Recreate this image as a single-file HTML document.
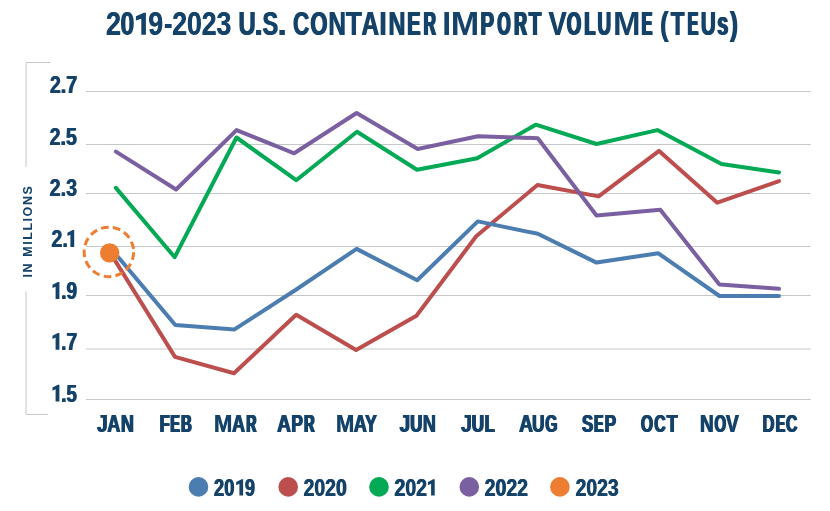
<!DOCTYPE html>
<html>
<head>
<meta charset="utf-8">
<title>2019-2023 U.S. Container Import Volume (TEUs)</title>
<style>
html,body{margin:0;padding:0;background:#fff;}
body{width:830px;height:511px;overflow:hidden;font-family:"Liberation Sans",sans-serif;}
svg{display:block;}
text{font-family:"Liberation Sans",sans-serif;font-weight:bold;fill:#144269;stroke:none;font-kerning:none;}
.grid line{stroke:#c6c7c9;stroke-width:1;}
.series polyline{fill:none;stroke-width:4;stroke-linecap:round;stroke-linejoin:round;}
</style>
</head>
<body>
<svg width="830" height="511" viewBox="0 0 830 511">
<rect width="830" height="511" fill="#ffffff"/>
<defs><filter id="noaa" x="0" y="0" width="830" height="511" filterUnits="userSpaceOnUse" color-interpolation-filters="sRGB"><feOffset dx="0" dy="0"/></filter></defs>
<g filter="url(#noaa)">

<!-- title -->
<g class="title">
<text id="t1" x="105.76" y="34.85" font-size="32.70" textLength="15.00" lengthAdjust="spacingAndGlyphs">2</text><text id="t2" x="120.12" y="34.85" font-size="32.70" textLength="13.76" lengthAdjust="spacingAndGlyphs">0</text><text x="136.00" y="34.85" font-size="32.70" style="fill:none">1</text><text id="t3" x="147.97" y="34.85" font-size="32.70" textLength="14.87" lengthAdjust="spacingAndGlyphs">9</text><text id="t4" x="164.05" y="34.85" font-size="32.70" textLength="7.27" lengthAdjust="spacingAndGlyphs">-</text><text id="t5" x="171.88" y="34.85" font-size="32.70" textLength="59.22" lengthAdjust="spacingAndGlyphs">2023</text>
<use href="#t1" x="0.52"/><use href="#t2" x="0.84"/><use href="#t3" x="0.55"/><use href="#t4" x="1.25"/><use href="#t5" x="0.57"/><path d="M145.90,34.85 L145.90,12.65 L143.90,12.65 L135.90,16.29 L135.90,20.60 L141.30,18.64 L141.30,34.85 Z" fill="#144269"/>
<text id="t6" x="237.97" y="34.85" font-size="32.70" textLength="17.22" lengthAdjust="spacingAndGlyphs">U</text><text id="t7" x="253.40" y="34.85" font-size="32.70" textLength="10.24" lengthAdjust="spacingAndGlyphs">.</text><text id="t8" x="262.02" y="34.85" font-size="32.70" textLength="15.68" lengthAdjust="spacingAndGlyphs">S</text><text id="t9" x="276.75" y="34.85" font-size="32.70" textLength="10.83" lengthAdjust="spacingAndGlyphs">.</text>
<use href="#t6" x="0.96"/><use href="#t8" x="1.01"/>
<text id="t10" x="292.47" y="34.85" font-size="32.70" textLength="16.29" lengthAdjust="spacingAndGlyphs">C</text><text id="t11" x="309.70" y="34.85" font-size="32.70" textLength="17.09" lengthAdjust="spacingAndGlyphs">O</text><text id="t12" x="327.97" y="34.85" font-size="32.70" textLength="17.57" lengthAdjust="spacingAndGlyphs">N</text><text id="t13" x="345.50" y="34.85" font-size="32.70" textLength="16.20" lengthAdjust="spacingAndGlyphs">T</text><text id="t14" x="360.99" y="34.85" font-size="32.70" textLength="17.55" lengthAdjust="spacingAndGlyphs">A</text><text id="t15" x="378.62" y="34.85" font-size="32.70" textLength="9.07" lengthAdjust="spacingAndGlyphs">I</text><text id="t16" x="387.93" y="34.85" font-size="32.70" textLength="16.92" lengthAdjust="spacingAndGlyphs">N</text><text id="t17" x="406.57" y="34.85" font-size="32.70" textLength="13.28" lengthAdjust="spacingAndGlyphs">E</text><text id="t18" x="422.66" y="34.85" font-size="32.70" textLength="12.29" lengthAdjust="spacingAndGlyphs">R</text>
<use href="#t10" x="1.15"/><use href="#t11" x="1.24"/><use href="#t12" x="0.90"/><use href="#t13" x="0.58"/><use href="#t14" x="0.90"/><use href="#t16" x="1.02"/><use href="#t17" x="0.77"/><use href="#t17" x="1.53"/><use href="#t18" x="0.95"/><use href="#t18" x="1.90"/>
<text id="t19" x="442.16" y="34.85" font-size="32.70" textLength="8.87" lengthAdjust="spacingAndGlyphs">I</text><text id="t20" x="450.71" y="34.85" font-size="32.70" textLength="28.47" lengthAdjust="spacingAndGlyphs">M</text><text id="t21" x="479.84" y="34.85" font-size="32.70" textLength="13.60" lengthAdjust="spacingAndGlyphs">P</text><text id="t22" x="496.40" y="34.85" font-size="32.70" textLength="13.21" lengthAdjust="spacingAndGlyphs">O</text><text id="t23" x="513.33" y="34.85" font-size="32.70" textLength="12.66" lengthAdjust="spacingAndGlyphs">R</text><text id="t24" x="527.97" y="34.85" font-size="32.70" textLength="12.77" lengthAdjust="spacingAndGlyphs">T</text>
<use href="#t21" x="0.73"/><use href="#t21" x="1.46"/><use href="#t22" x="0.95"/><use href="#t22" x="1.90"/><use href="#t23" x="0.94"/><use href="#t23" x="1.88"/><use href="#t24" x="0.69"/><use href="#t24" x="1.39"/>
<text id="t25" x="548.21" y="34.85" font-size="32.70" textLength="18.20" lengthAdjust="spacingAndGlyphs">V</text><text id="t26" x="565.95" y="34.85" font-size="32.70" textLength="14.26" lengthAdjust="spacingAndGlyphs">O</text><text id="t27" x="583.62" y="34.85" font-size="32.70" textLength="10.76" lengthAdjust="spacingAndGlyphs">L</text><text id="t28" x="596.67" y="34.85" font-size="32.70" textLength="13.59" lengthAdjust="spacingAndGlyphs">U</text><text id="t29" x="612.99" y="34.85" font-size="32.70" textLength="27.52" lengthAdjust="spacingAndGlyphs">M</text><text id="t30" x="640.85" y="34.85" font-size="32.70" textLength="10.46" lengthAdjust="spacingAndGlyphs">E</text>
<use href="#t25" x="0.47"/><use href="#t26" x="0.88"/><use href="#t26" x="1.76"/><use href="#t27" x="0.93"/><use href="#t27" x="1.86"/><use href="#t28" x="0.84"/><use href="#t28" x="1.69"/><use href="#t30" x="0.95"/><use href="#t30" x="1.90"/>
<text id="t31" x="659.74" y="34.85" font-size="32.70" textLength="8.43" lengthAdjust="spacingAndGlyphs">(</text><text id="t32" x="670.15" y="34.85" font-size="32.70" textLength="13.73" lengthAdjust="spacingAndGlyphs">T</text><text id="t33" x="686.63" y="34.85" font-size="32.70" textLength="10.70" lengthAdjust="spacingAndGlyphs">E</text><text id="t34" x="700.16" y="34.85" font-size="32.70" textLength="14.85" lengthAdjust="spacingAndGlyphs">U</text><text id="t35" x="716.62" y="34.85" font-size="32.70" textLength="10.76" lengthAdjust="spacingAndGlyphs">s</text><text id="t36" x="729.58" y="34.85" font-size="32.70" textLength="7.71" lengthAdjust="spacingAndGlyphs">)</text>
<use href="#t31" x="0.75"/><use href="#t32" x="1.16"/><use href="#t33" x="0.95"/><use href="#t33" x="1.90"/><use href="#t34" x="0.72"/><use href="#t34" x="1.44"/><use href="#t35" x="0.81"/><use href="#t35" x="1.61"/><use href="#t36" x="1.06"/>
</g>
<!-- axis brackets -->
<g fill="none" stroke="#c6c7c9" stroke-width="1">
<polyline points="50.5,62.5 26.05,62.5 26.05,167"/>
<polyline points="26.05,291.6 26.05,414.4 47.9,414.4"/>
</g>
<!-- grid -->
<g class="grid">
<line x1="86" x2="810.7" y1="91.5" y2="91.5"/>
<line x1="86" x2="810.7" y1="144.5" y2="144.5"/>
<line x1="86" x2="810.7" y1="193.5" y2="193.5"/>
<line x1="86" x2="810.7" y1="246.5" y2="246.5"/>
<line x1="86" x2="810.7" y1="295.5" y2="295.5"/>
<line x1="86" x2="810.7" y1="349.0" y2="349.0"/>
<line x1="86" x2="810.7" y1="399.5" y2="399.5"/>
</g>
<!-- y labels -->
<g class="ylab">
<text id="t37" x="49.42" y="93.00" font-size="24.71" textLength="27.39" lengthAdjust="spacingAndGlyphs">2.7</text>
<use href="#t37" x="0.86"/>
<text id="t38" x="49.22" y="144.90" font-size="24.71" textLength="27.25" lengthAdjust="spacingAndGlyphs">2.5</text>
<use href="#t38" x="0.88"/>
<text id="t39" x="49.22" y="195.70" font-size="24.71" textLength="27.44" lengthAdjust="spacingAndGlyphs">2.3</text>
<use href="#t39" x="0.86"/>
<text id="t40" x="51.01" y="246.90" font-size="24.71" textLength="16.50" lengthAdjust="spacingAndGlyphs">2.</text><text x="67.00" y="246.90" font-size="24.71" style="fill:none">1</text>
<use href="#t40" x="0.85"/><path d="M74.20,246.90 L74.20,230.10 L72.69,230.10 L67.40,232.86 L67.40,236.11 L70.40,234.64 L70.40,246.90 Z" fill="#144269"/>
<text x="52.00" y="298.90" font-size="24.71" style="fill:none">1</text><text id="t41" x="60.71" y="298.90" font-size="24.71" textLength="15.83" lengthAdjust="spacingAndGlyphs">.9</text>
<use href="#t41" x="0.97"/><path d="M59.40,298.90 L59.40,282.10 L57.89,282.10 L52.50,284.86 L52.50,288.11 L55.60,286.64 L55.60,298.90 Z" fill="#144269"/>
<text x="52.00" y="349.80" font-size="24.71" style="fill:none">1</text><text id="t42" x="60.70" y="349.80" font-size="24.71" textLength="16.01" lengthAdjust="spacingAndGlyphs">.7</text>
<use href="#t42" x="0.93"/><path d="M59.40,349.80 L59.40,333.00 L57.89,333.00 L52.50,335.76 L52.50,339.01 L55.60,337.54 L55.60,349.80 Z" fill="#144269"/>
<text x="52.00" y="401.60" font-size="24.71" style="fill:none">1</text><text id="t43" x="60.73" y="401.60" font-size="24.71" textLength="15.58" lengthAdjust="spacingAndGlyphs">.5</text>
<use href="#t43" x="1.01"/><path d="M59.40,401.60 L59.40,384.80 L57.89,384.80 L52.50,387.56 L52.50,390.81 L55.60,389.34 L55.60,401.60 Z" fill="#144269"/>
</g>
<!-- IN MILLIONS -->
<text transform="translate(31.5,277.4) rotate(-90)" font-size="12.5" style="stroke:none" textLength="91.2" lengthAdjust="spacing">IN MILLIONS</text>
<!-- series -->
<g class="series">
<polyline stroke="#bd4e4e" points="110.3,252.9 175,356.9 234,373.2 296.2,314.7 356.1,350 416.5,315.7 476.2,236.2 537.5,185 598.6,196.4 659.1,150.9 717.3,202.7 779,181.1"/>
<polyline stroke="#4c7db1" points="113.5,251.5 175.3,325 234.5,329.4 295.5,290 356.6,248.9 417.2,280.2 477.8,221.4 537.8,233.8 596.5,262.6 658.4,253.3 719.5,296 779,296"/>
<polyline stroke="#03a954" points="115.9,187.9 174.7,257.2 236.5,137.5 296.2,180.2 357,131.8 417,169.7 477.2,158.2 535.8,124.7 596.5,144 657.4,130.1 721.5,163.9 779,172.4"/>
<polyline stroke="#7a60a1" points="115.9,151.6 176.1,189.5 236.5,130.1 294.2,153.3 356.6,113 417.7,149 477.9,136.2 537.8,138.2 596.5,215.5 660.3,209.8 719.4,284.5 779,288.8"/>
</g>
<!-- 2023 marker -->
<circle cx="108.9" cy="251.9" r="24.75" fill="none" stroke="#ed7d31" stroke-width="3" stroke-dasharray="7.7 4.262" stroke-dashoffset="-0.3"/>
<circle cx="109.7" cy="252.9" r="9.7" fill="#ed7d31"/>
<!-- x labels -->
<g class="xlab">
<text id="t44" x="96.61" y="432.00" font-size="24.71" textLength="10.49" lengthAdjust="spacingAndGlyphs">J</text><text id="t45" x="106.66" y="432.00" font-size="24.71" textLength="12.88" lengthAdjust="spacingAndGlyphs">A</text><text id="t46" x="120.29" y="432.00" font-size="24.71" textLength="13.02" lengthAdjust="spacingAndGlyphs">N</text>
<use href="#t44" x="1.08"/><use href="#t45" x="1.23"/><use href="#t46" x="1.20"/>
<text id="t47" x="159.01" y="432.00" font-size="24.71" textLength="9.92" lengthAdjust="spacingAndGlyphs">F</text><text id="t48" x="169.45" y="432.00" font-size="24.71" textLength="9.44" lengthAdjust="spacingAndGlyphs">E</text><text id="t49" x="180.22" y="432.00" font-size="24.71" textLength="10.54" lengthAdjust="spacingAndGlyphs">B</text>
<use href="#t47" x="0.73"/><use href="#t47" x="1.46"/><use href="#t48" x="0.88"/><use href="#t48" x="1.76"/><use href="#t49" x="0.85"/><use href="#t49" x="1.70"/>
<text id="t50" x="213.63" y="432.00" font-size="24.71" textLength="18.31" lengthAdjust="spacingAndGlyphs">M</text><text id="t51" x="231.56" y="432.00" font-size="24.71" textLength="12.88" lengthAdjust="spacingAndGlyphs">A</text><text id="t52" x="245.47" y="432.00" font-size="24.71" textLength="10.01" lengthAdjust="spacingAndGlyphs">R</text>
<use href="#t50" x="0.63"/><use href="#t51" x="1.23"/><use href="#t52" x="0.90"/><use href="#t52" x="1.80"/>
<text id="t53" x="276.62" y="432.00" font-size="24.71" textLength="13.84" lengthAdjust="spacingAndGlyphs">A</text><text id="t54" x="290.74" y="432.00" font-size="24.71" textLength="11.54" lengthAdjust="spacingAndGlyphs">P</text><text id="t55" x="303.23" y="432.00" font-size="24.71" textLength="10.45" lengthAdjust="spacingAndGlyphs">R</text>
<use href="#t53" x="1.04"/><use href="#t54" x="0.65"/><use href="#t54" x="1.31"/><use href="#t55" x="0.86"/><use href="#t55" x="1.72"/>
<text id="t56" x="335.63" y="432.00" font-size="24.71" textLength="18.31" lengthAdjust="spacingAndGlyphs">M</text><text id="t57" x="353.26" y="432.00" font-size="24.71" textLength="12.88" lengthAdjust="spacingAndGlyphs">A</text><text id="t58" x="364.50" y="432.00" font-size="24.71" textLength="11.71" lengthAdjust="spacingAndGlyphs">Y</text>
<use href="#t56" x="0.63"/><use href="#t57" x="1.23"/><use href="#t58" x="1.27"/>
<text id="t59" x="399.11" y="432.00" font-size="24.71" textLength="10.49" lengthAdjust="spacingAndGlyphs">J</text><text id="t60" x="409.60" y="432.00" font-size="24.71" textLength="12.01" lengthAdjust="spacingAndGlyphs">U</text><text id="t61" x="422.18" y="432.00" font-size="24.71" textLength="13.18" lengthAdjust="spacingAndGlyphs">N</text>
<use href="#t59" x="1.08"/><use href="#t60" x="0.70"/><use href="#t60" x="1.40"/><use href="#t61" x="1.17"/>
<text id="t62" x="460.61" y="432.00" font-size="24.71" textLength="10.83" lengthAdjust="spacingAndGlyphs">J</text><text id="t63" x="471.08" y="432.00" font-size="24.71" textLength="12.32" lengthAdjust="spacingAndGlyphs">U</text><text id="t64" x="484.11" y="432.00" font-size="24.71" textLength="9.93" lengthAdjust="spacingAndGlyphs">L</text>
<use href="#t62" x="0.99"/><use href="#t63" x="0.67"/><use href="#t63" x="1.34"/><use href="#t64" x="0.73"/><use href="#t64" x="1.46"/>
<text id="t65" x="518.62" y="432.00" font-size="24.71" textLength="13.84" lengthAdjust="spacingAndGlyphs">A</text><text id="t66" x="531.38" y="432.00" font-size="24.71" textLength="12.33" lengthAdjust="spacingAndGlyphs">U</text><text id="t67" x="544.56" y="432.00" font-size="24.71" textLength="12.16" lengthAdjust="spacingAndGlyphs">G</text>
<use href="#t65" x="1.04"/><use href="#t66" x="0.67"/><use href="#t66" x="1.34"/><use href="#t67" x="0.77"/><use href="#t67" x="1.55"/>
<text id="t68" x="581.32" y="432.00" font-size="24.71" textLength="11.14" lengthAdjust="spacingAndGlyphs">S</text><text id="t69" x="593.17" y="432.00" font-size="24.71" textLength="9.28" lengthAdjust="spacingAndGlyphs">E</text><text id="t70" x="603.94" y="432.00" font-size="24.71" textLength="11.54" lengthAdjust="spacingAndGlyphs">P</text>
<use href="#t68" x="0.70"/><use href="#t68" x="1.39"/><use href="#t69" x="0.90"/><use href="#t69" x="1.80"/><use href="#t70" x="0.65"/><use href="#t70" x="1.31"/>
<text id="t71" x="640.17" y="432.00" font-size="24.71" textLength="12.00" lengthAdjust="spacingAndGlyphs">O</text><text id="t72" x="653.56" y="432.00" font-size="24.71" textLength="11.33" lengthAdjust="spacingAndGlyphs">C</text><text id="t73" x="666.10" y="432.00" font-size="24.71" textLength="10.99" lengthAdjust="spacingAndGlyphs">T</text>
<use href="#t71" x="0.79"/><use href="#t71" x="1.58"/><use href="#t72" x="0.77"/><use href="#t72" x="1.54"/><use href="#t73" x="1.21"/>
<text id="t74" x="699.53" y="432.00" font-size="24.71" textLength="13.67" lengthAdjust="spacingAndGlyphs">N</text><text id="t75" x="713.69" y="432.00" font-size="24.71" textLength="11.58" lengthAdjust="spacingAndGlyphs">O</text><text id="t76" x="725.57" y="432.00" font-size="24.71" textLength="12.83" lengthAdjust="spacingAndGlyphs">V</text>
<use href="#t74" x="1.07"/><use href="#t75" x="0.83"/><use href="#t75" x="1.66"/><use href="#t76" x="1.03"/>
<text id="t77" x="761.90" y="432.00" font-size="24.71" textLength="11.85" lengthAdjust="spacingAndGlyphs">D</text><text id="t78" x="775.07" y="432.00" font-size="24.71" textLength="9.28" lengthAdjust="spacingAndGlyphs">E</text><text id="t79" x="785.26" y="432.00" font-size="24.71" textLength="11.33" lengthAdjust="spacingAndGlyphs">C</text>
<use href="#t77" x="0.72"/><use href="#t77" x="1.44"/><use href="#t78" x="0.90"/><use href="#t78" x="1.80"/><use href="#t79" x="0.77"/><use href="#t79" x="1.54"/>
</g>
<!-- legend -->
<g class="legend">
<circle cx="198.5" cy="486.9" r="9.8" fill="#4c7db1"/>
<text id="t80" x="213.57" y="495.60" font-size="23.98" textLength="20.31" lengthAdjust="spacingAndGlyphs">20</text><text x="236.00" y="495.60" font-size="23.98" style="fill:none">1</text><text id="t81" x="244.58" y="495.60" font-size="23.98" textLength="9.97" lengthAdjust="spacingAndGlyphs">9</text>
<use href="#t80" x="0.97"/><use href="#t81" x="1.02"/><path d="M243.10,495.60 L243.10,479.30 L241.63,479.30 L236.20,481.97 L236.20,485.14 L239.40,483.70 L239.40,495.60 Z" fill="#144269"/>
<circle cx="288.2" cy="486.9" r="9.8" fill="#bd4e4e"/>
<text id="t82" x="303.23" y="495.60" font-size="23.98" textLength="43.16" lengthAdjust="spacingAndGlyphs">2020</text>
<use href="#t82" x="0.81"/>
<circle cx="379" cy="486.9" r="9.8" fill="#03a954"/>
<text id="t83" x="394.12" y="495.60" font-size="23.98" textLength="32.57" lengthAdjust="spacingAndGlyphs">202</text><text x="428.00" y="495.60" font-size="23.98" style="fill:none">1</text>
<use href="#t83" x="0.79"/><path d="M434.70,495.60 L434.70,479.30 L433.23,479.30 L427.95,481.97 L427.95,485.14 L431.10,483.70 L431.10,495.60 Z" fill="#144269"/>
<circle cx="469.3" cy="486.9" r="9.8" fill="#7a60a1"/>
<text id="t84" x="484.22" y="495.60" font-size="23.98" textLength="43.47" lengthAdjust="spacingAndGlyphs">2022</text>
<use href="#t84" x="0.79"/>
<circle cx="559.9" cy="486.9" r="9.8" fill="#ed7d31"/>
<text id="t85" x="575.23" y="495.60" font-size="23.98" textLength="43.06" lengthAdjust="spacingAndGlyphs">2023</text>
<use href="#t85" x="0.81"/>
</g>
</g>
</svg>
</body>
</html>
